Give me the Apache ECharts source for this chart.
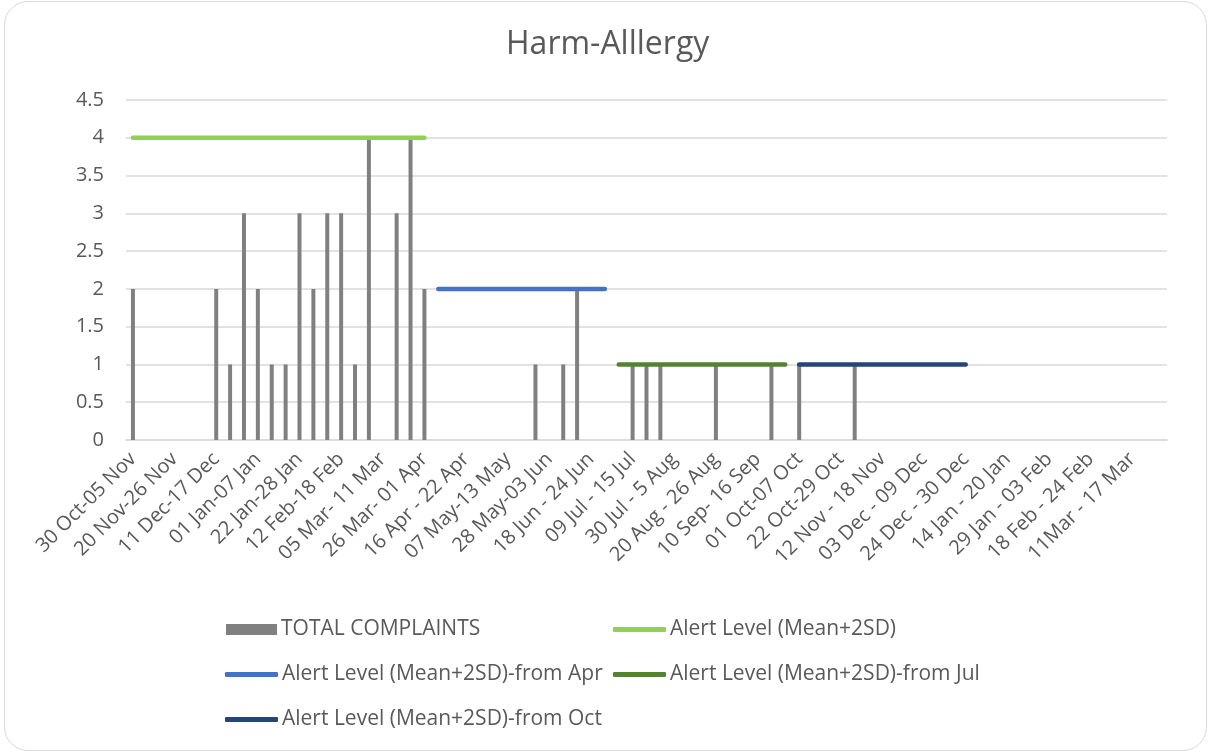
<!DOCTYPE html>
<html>
<head>
<meta charset="utf-8">
<title>Harm-Alllergy</title>
<script src="https://cdn.jsdelivr.net/npm/echarts@6/dist/echarts.min.js"></script>
<style>
  html, body { margin: 0; padding: 0; background: #fff; }
  #frame {
    position: absolute; left: 4px; top: 1px; width: 1203px; height: 750px;
    border: 1.5px solid #d9d9d9; border-radius: 24px; box-sizing: border-box;
  }
  #chart { position: absolute; left: 0; top: 0; width: 1208px; height: 753px; }
</style>
</head>
<body>
<div id="frame"></div>
<div id="chart"></div>
<script>
  // weekly buckets, only every 3rd label is shown on the axis
  var weeks = [
    '30 Oct-05 Nov', '06 Nov-12 Nov', '13 Nov-19 Nov', '20 Nov-26 Nov', '27 Nov-03 Dec',
    '04 Dec-10 Dec', '11 Dec-17 Dec', '18 Dec-24 Dec', '25 Dec-31 Dec', '01 Jan-07 Jan',
    '08 Jan-14 Jan', '15 Jan-21 Jan', '22 Jan-28 Jan', '29 Jan-04 Feb', '05 Feb-11 Feb',
    '12 Feb-18 Feb', '19 Feb-25 Feb', '26 Feb-04 Mar', '05 Mar- 11 Mar', '12 Mar-18 Mar',
    '19 Mar-25 Mar', '26 Mar- 01 Apr', '02 Apr-08 Apr', '09 Apr-15 Apr', '16 Apr - 22 Apr',
    '23 Apr-29 Apr', '30 Apr-06 May', '07 May-13 May', '14 May-20 May', '21 May-27 May',
    '28 May-03 Jun', '04 Jun-10 Jun', '11 Jun-17 Jun', '18 Jun - 24 Jun', '25 Jun-01 Jul',
    '02 Jul-08 Jul', '09 Jul - 15 Jul', '16 Jul-22 Jul', '23 Jul-29 Jul', '30 Jul - 5 Aug',
    '06 Aug-12 Aug', '13 Aug-19 Aug', '20 Aug - 26 Aug', '27 Aug-02 Sep', '03 Sep-09 Sep',
    '10 Sep- 16 Sep', '17 Sep-23 Sep', '24 Sep-30 Sep', '01 Oct-07 Oct', '08 Oct-14 Oct',
    '15 Oct-21 Oct', '22 Oct-29 Oct', '29 Oct-04 Nov', '05 Nov-11 Nov', '12 Nov - 18 Nov',
    '19 Nov-25 Nov', '26 Nov-02 Dec', '03 Dec - 09 Dec', '10 Dec-16 Dec', '17 Dec-23 Dec',
    '24 Dec - 30 Dec', '31 Dec-06 Jan', '07 Jan-13 Jan', '14 Jan - 20 Jan', '21 Jan - 24 Jan',
    '25 Jan - 28 Jan', '29 Jan - 03 Feb', '04 Feb - 10 Feb', '11 Feb - 17 Feb', '18 Feb - 24 Feb',
    '25 Feb - 03 Mar', '04 Mar - 10 Mar', '11Mar - 17 Mar', '18 Mar - 24 Mar', '25 Mar - 31 Mar'
  ];

  var complaints = [
    2, 0, 0, 0, 0, 0, 2, 1, 3, 2,
    1, 1, 3, 2, 3, 3, 1, 4, 0, 3,
    4, 2, 0, 0, 0, 0, 0, 0, 0, 1,
    0, 1, 2, 0, 0, 0, 1, 1, 1, 0,
    0, 0, 1, 0, 0, 0, 1, 0, 1, 0,
    0, 0, 1, 0, 0, 0, 0, 0, 0, 0,
    0, 0, 0, 0, 0, 0, 0, 0, 0, 0,
    0, 0, 0, 0, 0
  ];

  // alert levels and the week range each one covers
  var alertNames = [
    'Alert Level (Mean+2SD)',
    'Alert Level (Mean+2SD)-from Apr',
    'Alert Level (Mean+2SD)-from Jul',
    'Alert Level (Mean+2SD)-from Oct'
  ];
  var alertValues = [4, 2, 1, 1];
  var alertFrom = [0, 22, 35, 48];
  var alertTo = [21, 34, 47, 60];
  var alertColors = ['#92d050', '#4472c4', '#548235', '#264478'];

  var yTicks = [0, 0.5, 1, 1.5, 2, 2.5, 3, 3.5, 4, 4.5];

  var FONT = '"Open Sans", sans-serif';
  var TEXT = '#595959';

  var chart = echarts.init(document.getElementById('chart'));

  var series = [{
    name: 'TOTAL COMPLAINTS',
    type: 'bar',
    barWidth: 4,
    itemStyle: { color: '#808080' },
    data: complaints
  }];
  alertNames.forEach(function (name, k) {
    series.push({
      name: name,
      type: 'line',
      symbol: 'none',
      z: 5,
      lineStyle: { width: 4.5, color: alertColors[k], cap: 'round' },
      itemStyle: { color: alertColors[k] },
      data: weeks.map(function (w, i) {
        return (i >= alertFrom[k] && i <= alertTo[k]) ? alertValues[k] : null;
      })
    });
  });

  function legendAt(name, left, top, isBar) {
    return {
      data: [name],
      left: left,
      top: top,
      padding: 0,
      icon: isBar ? 'rect' : 'roundRect',
      itemWidth: isBar ? 51 : 53,
      itemHeight: isBar ? 11 : 5,
      itemGap: 0,
      textStyle: { color: TEXT, fontSize: 21, fontFamily: FONT, padding: [0, 0, 0, -1] },
      selectedMode: false
    };
  }

  chart.setOption({
    animation: false,
    title: {
      text: 'Harm-Alllergy',
      left: 501,
      top: 24,
      textStyle: { color: TEXT, fontSize: 32, fontWeight: 'normal', fontFamily: FONT }
    },
    legend: [
      legendAt('TOTAL COMPLAINTS', 226, 619, true),
      legendAt(alertNames[0], 613, 619, false),
      legendAt(alertNames[1], 225, 664, false),
      legendAt(alertNames[2], 613, 664, false),
      legendAt(alertNames[3], 225, 709, false)
    ],
    grid: { left: 126, right: 41, top: 100, bottom: 313 },
    xAxis: {
      type: 'category',
      data: weeks,
      boundaryGap: true,
      axisLine: { lineStyle: { color: '#d9d9d9', width: 1.5 } },
      axisTick: { show: false },
      axisLabel: {
        interval: 2,
        rotate: 45,
        margin: 16,
        color: TEXT,
        fontSize: 20,
        fontFamily: FONT
      }
    },
    yAxis: {
      type: 'value',
      min: yTicks[0],
      max: yTicks[yTicks.length - 1],
      interval: 0.5,
      axisLine: { show: false },
      axisTick: { show: false },
      splitLine: { lineStyle: { color: '#d9d9d9', width: 1.5 } },
      axisLabel: { color: TEXT, fontSize: 20, fontFamily: FONT, margin: 22 }
    },
    series: series
  });
</script>
</body>
</html>
